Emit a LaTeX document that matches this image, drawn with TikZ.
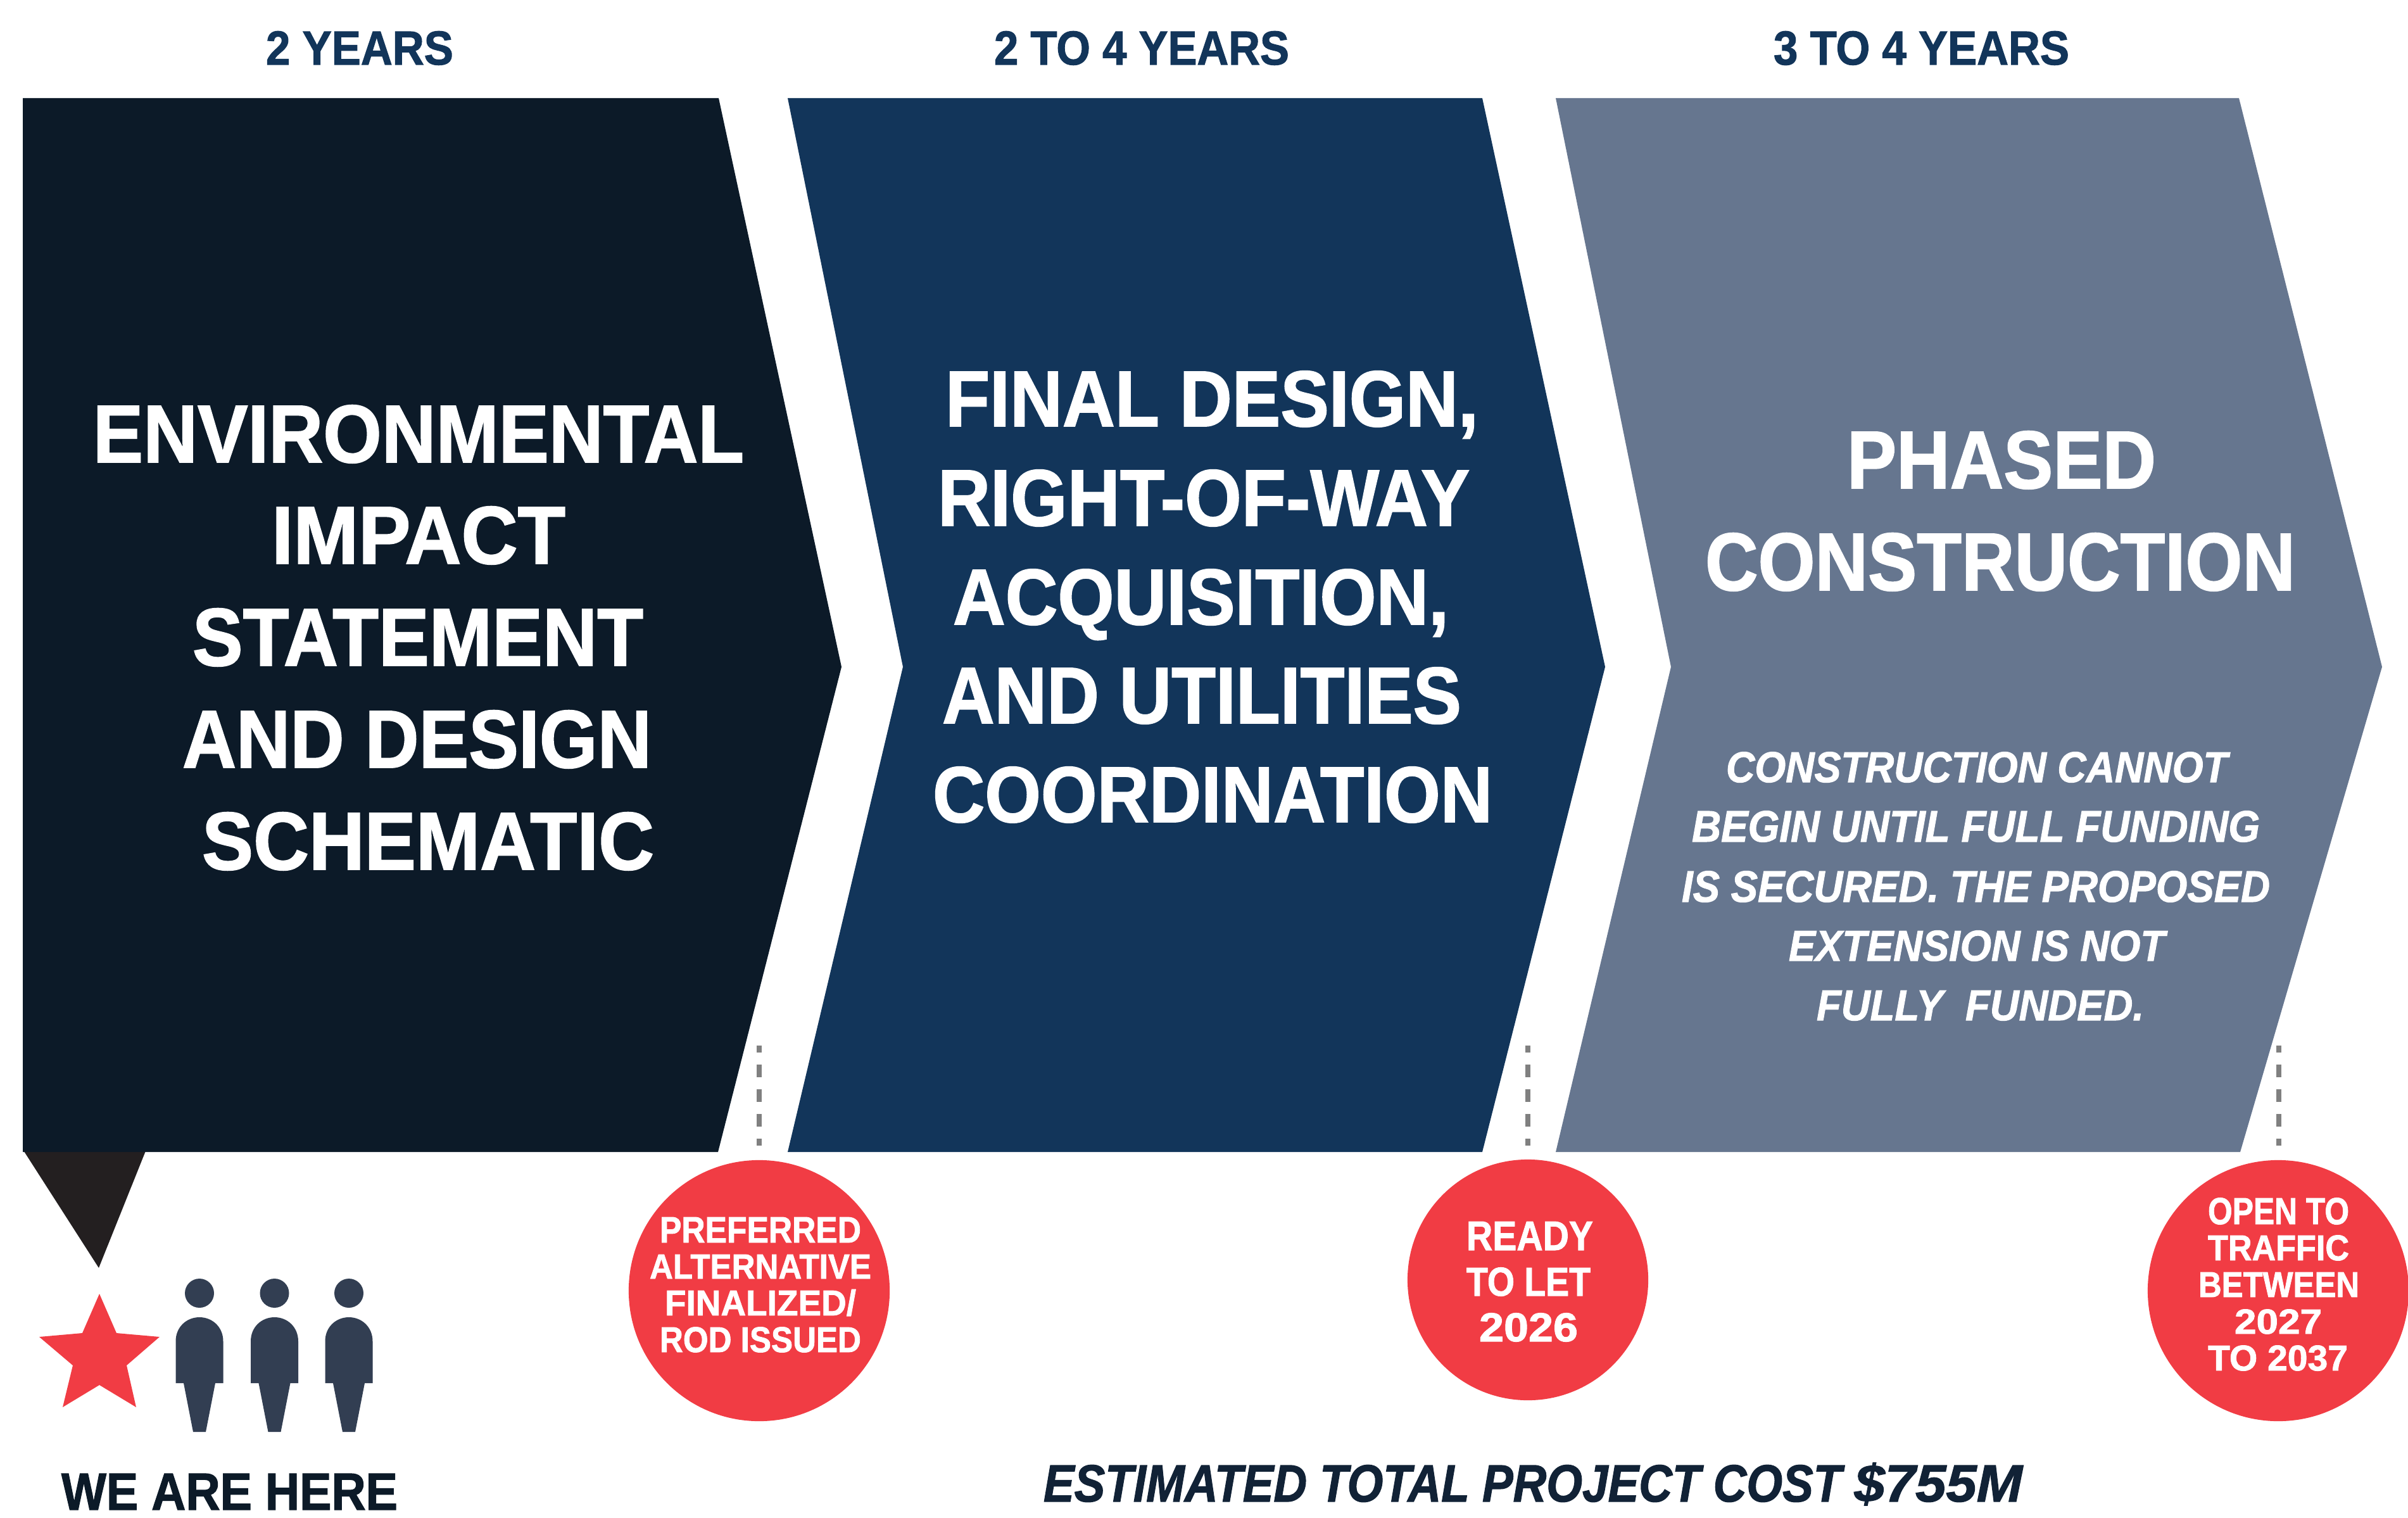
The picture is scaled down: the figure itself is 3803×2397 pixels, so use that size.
\documentclass[tikz,border=0pt]{standalone}
\usepackage{fontspec}
\usepackage{graphicx}
\setmainfont{Liberation Sans}[BoldFeatures={FakeBold=1.5},BoldItalicFeatures={FakeBold=1.5}]
\definecolor{cDark}{HTML}{0C1A28}
\definecolor{cBlue}{HTML}{12355A}
\definecolor{cGrey}{HTML}{66768F}
\definecolor{cTail}{HTML}{231F20}
\definecolor{cRed}{HTML}{F13C44}
\definecolor{cPerson}{HTML}{323E52}
\definecolor{cCost}{HTML}{112236}
\definecolor{cDash}{HTML}{808080}
\newcommand{\capht}{13.76pt}
\newcommand{\tl}[7]{%
  \pgfmathsetlengthmacro{\tlw}{(#4-#3)*0.01cm}%
  \pgfmathsetlengthmacro{\tlh}{(#6-#5)*0.01cm}%
  \pgfmathsetmacro{\tlx}{(#3+#4)/2}%
  \node[#1, anchor=base] (#2) at (\tlx,#6) {\resizebox{\tlw}{\tlh}{\raisebox{0pt}[\capht][0pt]{#7}}};%
}
\tikzset{
  linetext/.style={inner sep=0pt, outer sep=0pt, font=\fontsize{20}{24}\selectfont\bfseries},
  whitetext/.style={linetext, text=white},
  italictext/.style={linetext, text=white, font=\fontsize{20}{24}\selectfont\bfseries\itshape},
  headtext/.style={linetext, text=cBlue},
  redcircle/.style={circle, fill=cRed, inner sep=0pt, outer sep=0pt},
  leader/.style={draw=cDash, line width=2.4pt, dash pattern=on 5.69pt off 5.4pt, dash phase=2.56pt},
}
\begin{document}
\begin{tikzpicture}[x=0.01cm,y=-0.01cm]
\useasboundingbox (0,0) rectangle (3803,2397);
\fill[white] (0,0) rectangle (3803,2397);
% chevrons
\fill[cTail] (36,1815) -- (231,1815) -- (156,2002) -- cycle;
\fill[cDark] (36,155) -- (1135,155) -- (1329,1053) -- (1134,1819) -- (36,1819) -- cycle;
\fill[cBlue] (1244,155) -- (2341,155) -- (2535,1053) -- (2341,1819) -- (1244,1819) -- (1426,1053) -- cycle;
\fill[cGrey] (2457,155) -- (3536,155) -- (3762,1053) -- (3538,1819) -- (2457,1819) -- (2639,1053) -- cycle;
% headings
\tl{headtext}{h1}{420}{716}{50}{102}{2 YEARS}
\tl{headtext}{h2}{1570}{2036}{50}{102}{2 TO 4 YEARS}
\tl{headtext}{h3}{2801}{3268}{50}{102}{3 TO 4 YEARS}
% column 1
\tl{whitetext}{a1}{147}{1175}{641}{730}{ENVIRONMENTAL}
\tl{whitetext}{a2}{429}{893}{801}{890}{IMPACT}
\tl{whitetext}{a3}{304}{1016}{962}{1051}{STATEMENT}
\tl{whitetext}{a4}{288}{1029}{1123}{1212}{AND DESIGN}
\tl{whitetext}{a5}{319}{1033}{1284}{1373}{SCHEMATIC}
% column 2
\tl{whitetext}{b1}{1493}{2335}{587}{673}{FINAL DESIGN,}
\tl{whitetext}{b2}{1481}{2321}{743}{830}{RIGHT-OF-WAY}
\tl{whitetext}{b3}{1505}{2288}{900}{986}{ACQUISITION,}
\tl{whitetext}{b4}{1488}{2308}{1055}{1142}{AND UTILITIES}
\tl{whitetext}{b5}{1473}{2357}{1212}{1298}{COORDINATION}
% column 3
\tl{whitetext}{c1}{2917}{3405}{682}{771}{PHASED}
\tl{whitetext}{c2}{2693}{3625}{843}{932}{CONSTRUCTION}
\tl{italictext}{d1}{2726}{3518}{1188}{1235}{CONSTRUCTION CANNOT}
\tl{italictext}{d2}{2672}{3569}{1281}{1329}{BEGIN UNTIL FULL FUNDING}
\tl{italictext}{d3}{2656}{3585}{1376}{1424}{IS SECURED. THE PROPOSED}
\tl{italictext}{d4}{2825}{3419}{1470}{1517}{EXTENSION IS NOT}
\tl{italictext}{d5}{2869}{3386}{1564}{1611}{FULLY\ \ FUNDED.}
% milestones
\node[redcircle, minimum size=4.12cm] (m1) at (1199,2038) {};
\node[redcircle, minimum size=3.80cm] (m2) at (2413,2021) {};
\node[redcircle, minimum size=4.12cm] (m3) at (3598,2038) {};
\coordinate (t1) at (1199,1651); \coordinate (t1b) at (1199,1809);
\coordinate (t2) at (2413,1651); \coordinate (t2b) at (2413,1809);
\coordinate (t3) at (3599,1651); \coordinate (t3b) at (3599,1809);
\draw[leader] (t1) -- (t1b);
\draw[leader] (t2) -- (t2b);
\draw[leader] (t3) -- (t3b);
\tl{whitetext}{m1a}{1042}{1360}{1922}{1962}{PREFERRED}
\tl{whitetext}{m1b}{1026}{1376}{1981}{2019}{ALTERNATIVE}
\tl{whitetext}{m1c}{1050}{1352}{2038}{2077}{FINALIZED/}
\tl{whitetext}{m1d}{1042}{1360}{2096}{2135}{ROD ISSUED}
\tl{whitetext}{m2a}{2316}{2516}{1929}{1974}{READY}
\tl{whitetext}{m2b}{2316}{2512}{2002}{2046}{TO LET}
\tl{whitetext}{m2c}{2336}{2492}{2074}{2118}{2026}
\tl{whitetext}{m3a}{3487}{3710}{1892}{1933}{OPEN TO}
\tl{whitetext}{m3b}{3487}{3710}{1951}{1990}{TRAFFIC}
\tl{whitetext}{m3c}{3472}{3726}{2009}{2048}{BETWEEN}
\tl{whitetext}{m3d}{3529}{3667}{2068}{2106}{2027}
\tl{whitetext}{m3e}{3487}{3708}{2125}{2164}{TO 2037}
% star
\fill[cRed] (157,2043) -- (184,2105) -- (252,2111) -- (200,2156) -- (215,2222) -- (157,2187) -- (99,2222) -- (115,2156) -- (62,2111) -- (130,2105) -- cycle;
% people
\foreach \px in {315,433.5,551}{
  \fill[cPerson] ({\px},2042) circle [radius=23];
  \fill[cPerson] ({\px-37.5},2184) -- ({\px-37.5},2118)
    .. controls ({\px-37.5},2095) and ({\px-20},2080) .. ({\px},2080)
    .. controls ({\px+20},2080) and ({\px+37.5},2095) .. ({\px+37.5},2118)
    -- ({\px+37.5},2184) -- ({\px+25},2184) -- ({\px+10},2261) -- ({\px-10},2261) -- ({\px-25},2184) -- cycle;
}
\tl{linetext, text=cDark}{here}{97}{628}{2327}{2384}{WE ARE HERE}
\tl{linetext, text=cCost, font=\fontsize{20}{24}\selectfont\bfseries\itshape}{cost}{1648}{3194}{2314}{2371}{ESTIMATED TOTAL PROJECT COST \scalebox{1.19}[1]{\$755M}}
\end{tikzpicture}
\end{document}
